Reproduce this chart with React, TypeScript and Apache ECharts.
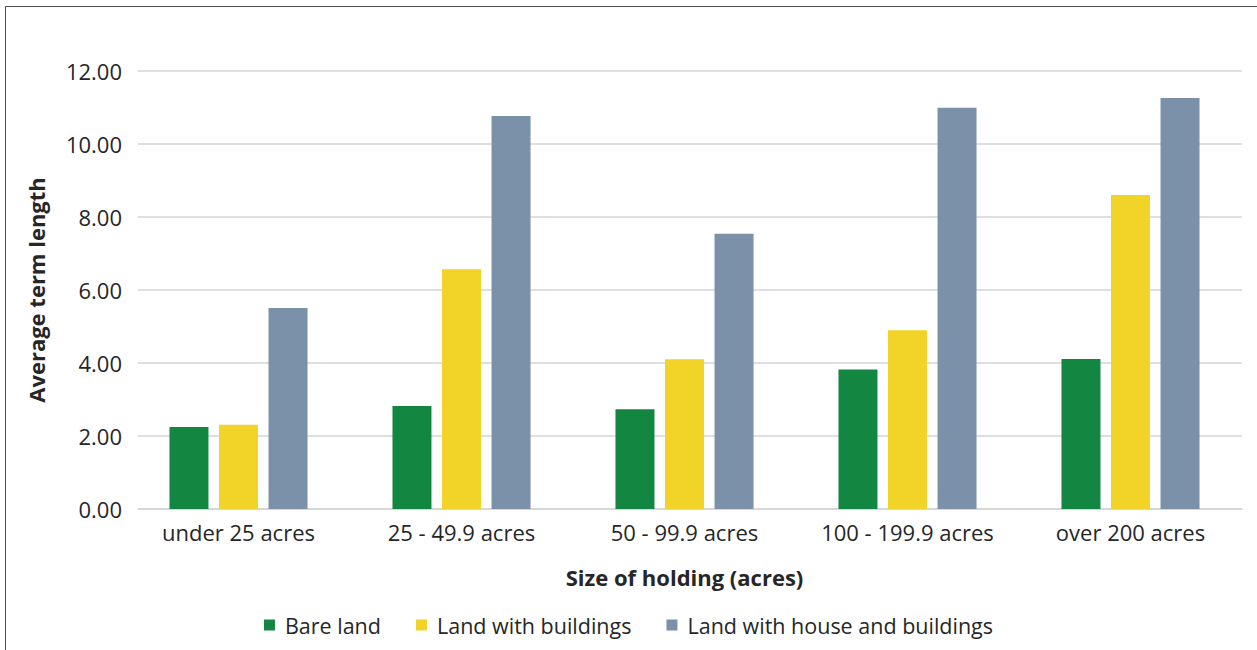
import React, { useEffect, useRef } from "react";
import * as echarts from "echarts";

// Holding size bands along the x axis
const categories = [
  "under 25 acres",
  "25 - 49.9 acres",
  "50 - 99.9 acres",
  "100 - 199.9 acres",
  "over 200 acres",
];

const seriesNames = [
  "Bare land",
  "Land with buildings",
  "Land with house and buildings",
];

// Average term length (years) per holding size
const bareLand = [2.25, 2.82, 2.73, 3.82, 4.11];
const landWithBuildings = [2.31, 6.57, 4.1, 4.9, 8.6];
const landWithHouse = [5.51, 10.77, 7.54, 10.99, 11.26];

const yTicks = { min: 0, max: 12, interval: 2 };

const colors = ["#138741", "#F2D328", "#7B91A9"];
const FONT = "'Open Sans', 'Noto Sans', sans-serif";
const TEXT = "#262626";

export default function App() {
  const ref = useRef<HTMLDivElement>(null);

  useEffect(() => {
    if (!ref.current) return;
    const chart = echarts.init(ref.current, undefined, { renderer: "svg" });

    const values = [bareLand, landWithBuildings, landWithHouse];

    chart.setOption({
      animation: false,
      backgroundColor: "#ffffff",
      textStyle: { fontFamily: FONT, color: TEXT },
      graphic: [
        {
          type: "rect",
          shape: { x: 5.5, y: 6.5, width: 1300, height: 700 },
          style: { fill: "none", stroke: "#4d4d4d", lineWidth: 1 },
          silent: true,
        },
      ],
      legend: {
        bottom: 9,
        left: "center",
        itemWidth: 11,
        itemHeight: 11,
        itemGap: 35,
        icon: "rect",
        textStyle: {
          fontFamily: FONT,
          fontSize: 21.5,
          color: TEXT,
          padding: [0, 0, 0, 5],
        },
        data: seriesNames,
      },
      grid: [
        // Axis frame: gridlines, value labels, baseline
        { left: 138, right: 15, top: 71, bottom: 141 },
        // Bars and category labels
        { left: 127, right: 15, top: 71, bottom: 141 },
      ],
      xAxis: [
        {
          gridIndex: 0,
          type: "category",
          data: categories,
          axisLine: { show: true, lineStyle: { color: "#d4d4d4", width: 1.5 } },
          axisTick: { show: false },
          axisLabel: { show: false },
          splitLine: { show: false },
        },
        {
          gridIndex: 1,
          type: "category",
          data: categories,
          axisLine: { show: false },
          axisTick: { show: false },
          axisLabel: {
            interval: 0,
            hideOverlap: false,
            fontFamily: FONT,
            fontSize: 22,
            color: TEXT,
            margin: 12,
          },
          name: "Size of holding (acres)",
          nameLocation: "middle",
          nameGap: 57,
          nameTextStyle: {
            fontFamily: FONT,
            fontSize: 22,
            fontWeight: "bold",
            color: TEXT,
          },
        },
      ],
      yAxis: [
        {
          gridIndex: 0,
          type: "value",
          min: yTicks.min,
          max: yTicks.max,
          interval: yTicks.interval,
          axisLine: { show: false },
          axisTick: { show: false },
          axisLabel: {
            fontFamily: FONT,
            fontSize: 22,
            color: TEXT,
            margin: 16,
            formatter: (v: number) => v.toFixed(2),
          },
          splitLine: { lineStyle: { color: "#d4d4d4", width: 1.5 } },
          name: "Average term length",
          nameLocation: "middle",
          nameGap: 91,
          nameRotate: 90,
          nameTextStyle: {
            fontFamily: FONT,
            fontSize: 22,
            fontWeight: "bold",
            color: TEXT,
          },
        },
        {
          gridIndex: 1,
          type: "value",
          min: yTicks.min,
          max: yTicks.max,
          interval: yTicks.interval,
          show: false,
          splitLine: { show: false },
        },
      ],
      series: seriesNames.map((name, i) => ({
        name,
        type: "bar",
        xAxisIndex: 1,
        yAxisIndex: 1,
        data: values[i],
        barWidth: 39,
        barGap: "27%",
        itemStyle: { color: colors[i] },
      })),
    });

    return () => chart.dispose();
  }, []);

  return (
    <div
      ref={ref}
      style={{ position: "fixed", left: 0, top: 0, width: 1257, height: 650 }}
    />
  );
}
